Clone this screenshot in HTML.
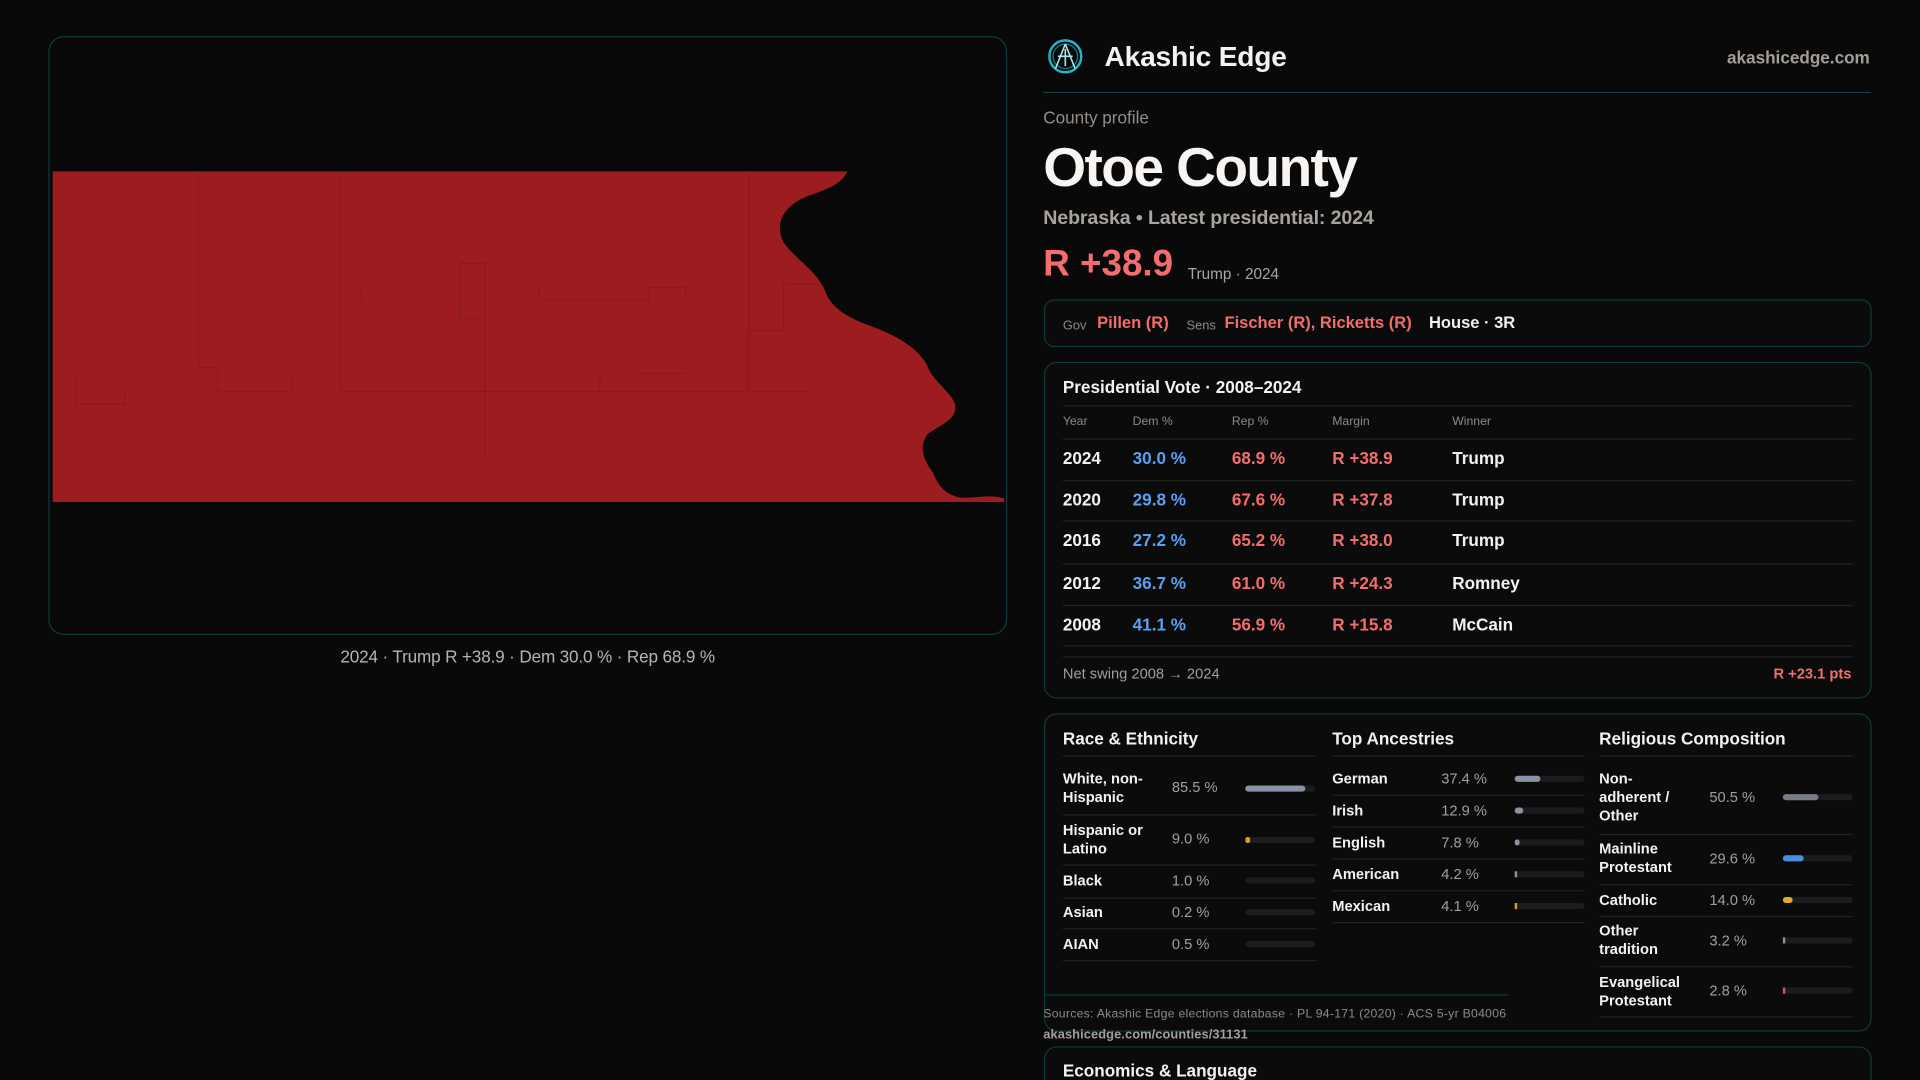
<!DOCTYPE html>
<html><head><meta charset="utf-8"><style>
html,body{margin:0;padding:0;background:#0a0909;overflow:hidden}
svg{display:block}
text{font-family:"Liberation Sans",sans-serif}
</style></head><body>
<svg width="1920" height="1080" viewBox="0 0 1568 882" xmlns="http://www.w3.org/2000/svg">
<rect width="1568" height="882" fill="#0a0909"/>
<rect x="40" y="30" width="782" height="488" rx="12" fill="#080808" stroke="#123a3e" stroke-width="1"/>
<path d="M43,140 L692,140 C688,150 675,155 660,160 C640,168 632,182 640,198 C650,212 668,222 674,238 C678,250 690,258 705,264 C728,272 748,282 757,298 C762,312 775,318 780,330 C782,342 770,346 758,354 C750,364 754,376 762,386 C766,396 770,402 782,406 C795,408 805,403 820,407 L820,410 L43,410 Z" fill="#9c1c20"/>
<g stroke="#6e1316" stroke-width="0.7" fill="none" opacity="0.45">
<path d="M162,142 V300 H178 V320 H238 V310"/>
<path d="M278,142 V320 H320"/>
<path d="M396,215 V375"/>
<path d="M278,320 H610 V270 H640 V232 H672"/>
<path d="M376,215 H396 M376,215 V260 M376,260 H396"/>
<path d="M440,232 V245 H530 V235 H560 V245"/>
<path d="M612,142 V320 H660"/>
<path d="M490,305 V320 M520,305 H560"/>
<path d="M62,305 V330 H102 V320"/>
<path d="M295,232 V245"/>
</g>
<text x="431" y="541" text-anchor="middle" font-size="14" fill="#b9b3ad" textLength="306">2024 · Trump R +38.9 · Dem 30.0 % · Rep 68.9 %</text>

<circle cx="870" cy="46" r="13" fill="none" stroke="#27b3c7" stroke-width="2"/>
<circle cx="870" cy="46" r="10" fill="none" stroke="#1b7f8e" stroke-width="1"/>
<path d="M870,36 L862,56 M870,36 L878,56 M864,46 H876 M870,40 V54" stroke="#a8e6f0" stroke-width="1.3" fill="none"/>
<text x="902" y="54" font-size="23" font-weight="bold" fill="#f4f1ee" textLength="149">Akashic Edge</text>
<text x="1527" y="52" text-anchor="end" font-size="14" font-weight="bold" fill="#a49e99">akashicedge.com</text>
<line x1="852" y1="75.5" x2="1528" y2="75.5" stroke="#1a3c42" stroke-width="1"/>
<text x="852" y="101" font-size="14" fill="#948e89">County profile</text>
<text x="852" y="152" font-size="45" font-weight="bold" fill="#f7f4f1" textLength="257">Otoe County</text>
<text x="852" y="183" font-size="16" font-weight="bold" fill="#a9a39e" textLength="270">Nebraska • Latest presidential: 2024</text>
<text x="852" y="225" font-size="30" font-weight="bold" fill="#f26d6d" textLength="106">R +38.9</text>
<text x="970" y="228" font-size="12.5" fill="#aaa4a0">Trump · 2024</text>

<rect x="853" y="245" width="675" height="38" rx="8" fill="#0b0b0b" stroke="#13373c"/>
<text x="868" y="269" font-size="10.5" fill="#8f8984">Gov</text>
<text x="896" y="268" font-size="13.5" font-weight="bold" fill="#f26d6d">Pillen (R)</text>
<text x="969" y="269" font-size="10.5" fill="#8f8984">Sens</text>
<text x="1000" y="268" font-size="13.5" font-weight="bold" fill="#f26d6d">Fischer (R), Ricketts (R)</text>
<text x="1167" y="268" font-size="13.5" font-weight="bold" fill="#f4f1ee">House · 3R</text>

<rect x="853" y="296" width="675" height="274" rx="10" fill="#0b0b0b" stroke="#13373c"/>
<text x="868" y="321" font-size="14" font-weight="bold" fill="#f4f1ee">Presidential Vote · 2008–2024</text>
<g stroke="#222" stroke-width="1">
<line x1="868" y1="331.5" x2="1513" y2="331.5"/>
<line x1="868" y1="358.5" x2="1513" y2="358.5"/>
<line x1="868" y1="392.5" x2="1513" y2="392.5"/>
<line x1="868" y1="425.5" x2="1513" y2="425.5"/>
<line x1="868" y1="460.5" x2="1513" y2="460.5"/>
<line x1="868" y1="494.5" x2="1513" y2="494.5"/>
<line x1="868" y1="527.5" x2="1513" y2="527.5"/>
<line x1="868" y1="536.5" x2="1513" y2="536.5"/>
</g>
<g font-size="10" fill="#8f8984">
<text x="868" y="347">Year</text><text x="925" y="347">Dem %</text><text x="1006" y="347">Rep %</text><text x="1088" y="347">Margin</text><text x="1186" y="347">Winner</text>
</g>
<g font-size="14" font-weight="bold">
<g fill="#f4f1ee"><text x="868" y="379">2024</text><text x="868" y="413">2020</text><text x="868" y="446">2016</text><text x="868" y="481">2012</text><text x="868" y="515">2008</text>
<text x="1186" y="379">Trump</text><text x="1186" y="413">Trump</text><text x="1186" y="446">Trump</text><text x="1186" y="481">Romney</text><text x="1186" y="515">McCain</text></g>
<g fill="#5a9ff2"><text x="925" y="379">30.0 %</text><text x="925" y="413">29.8 %</text><text x="925" y="446">27.2 %</text><text x="925" y="481">36.7 %</text><text x="925" y="515">41.1 %</text></g>
<g fill="#f26d6d"><text x="1006" y="379">68.9 %</text><text x="1006" y="413">67.6 %</text><text x="1006" y="446">65.2 %</text><text x="1006" y="481">61.0 %</text><text x="1006" y="515">56.9 %</text>
<text x="1088" y="379">R +38.9</text><text x="1088" y="413">R +37.8</text><text x="1088" y="446">R +38.0</text><text x="1088" y="481">R +24.3</text><text x="1088" y="515">R +15.8</text></g>
</g>
<text x="868" y="554" font-size="12" fill="#a49e99">Net swing 2008 → 2024</text>
<text x="1512" y="554" text-anchor="end" font-size="12" font-weight="bold" fill="#f26d6d">R +23.1 pts</text>

<rect x="853" y="583" width="675" height="259" rx="10" fill="#0b0b0b" stroke="#13373c"/>
<g font-size="14" font-weight="bold" fill="#f4f1ee">
<text x="868" y="608">Race &amp; Ethnicity</text><text x="1088" y="608">Top Ancestries</text><text x="1306" y="608">Religious Composition</text>
</g>
<g stroke="#222" stroke-width="1">
<line x1="868" y1="617.5" x2="1075" y2="617.5"/><line x1="1088" y1="617.5" x2="1294" y2="617.5"/><line x1="1306" y1="617.5" x2="1513" y2="617.5"/>
<line x1="868" y1="665.5" x2="1075" y2="665.5"/><line x1="868" y1="706.5" x2="1075" y2="706.5"/><line x1="868" y1="733.5" x2="1075" y2="733.5"/><line x1="868" y1="758.5" x2="1075" y2="758.5"/><line x1="868" y1="784.5" x2="1075" y2="784.5"/>
<line x1="1088" y1="649.5" x2="1294" y2="649.5"/><line x1="1088" y1="675.5" x2="1294" y2="675.5"/><line x1="1088" y1="701.5" x2="1294" y2="701.5"/><line x1="1088" y1="727.5" x2="1294" y2="727.5"/><line x1="1088" y1="753.5" x2="1294" y2="753.5"/>
<line x1="1306" y1="681.5" x2="1513" y2="681.5"/><line x1="1306" y1="722.5" x2="1513" y2="722.5"/><line x1="1306" y1="748.5" x2="1513" y2="748.5"/><line x1="1306" y1="789.5" x2="1513" y2="789.5"/><line x1="1306" y1="830.5" x2="1513" y2="830.5"/>
<line x1="853" y1="812.5" x2="1232" y2="812.5" stroke="#13373c"/>
</g>
<g font-size="12" font-weight="bold" fill="#f4f1ee">
<text x="868" y="640">White, non-</text><text x="868" y="655">Hispanic</text>
<text x="868" y="682">Hispanic or</text><text x="868" y="697">Latino</text>
<text x="868" y="723">Black</text><text x="868" y="749">Asian</text><text x="868" y="775">AIAN</text>
<text x="1088" y="640">German</text><text x="1088" y="666">Irish</text><text x="1088" y="692">English</text><text x="1088" y="718">American</text><text x="1088" y="744">Mexican</text>
<text x="1306" y="640">Non-</text><text x="1306" y="655">adherent /</text><text x="1306" y="670">Other</text>
<text x="1306" y="697">Mainline</text><text x="1306" y="712">Protestant</text>
<text x="1306" y="739">Catholic</text>
<text x="1306" y="764">Other</text><text x="1306" y="779">tradition</text>
<text x="1306" y="806">Evangelical</text><text x="1306" y="821">Protestant</text>
</g>
<g font-size="12" fill="#a49e99">
<text x="957" y="647">85.5 %</text><text x="957" y="689">9.0 %</text><text x="957" y="723">1.0 %</text><text x="957" y="749">0.2 %</text><text x="957" y="775">0.5 %</text>
<text x="1177" y="640">37.4 %</text><text x="1177" y="666">12.9 %</text><text x="1177" y="692">7.8 %</text><text x="1177" y="718">4.2 %</text><text x="1177" y="744">4.1 %</text>
<text x="1396" y="655">50.5 %</text><text x="1396" y="705">29.6 %</text><text x="1396" y="739">14.0 %</text><text x="1396" y="772">3.2 %</text><text x="1396" y="813">2.8 %</text>
</g>
<g fill="#1c1c1e">
<rect x="1017" y="641.5" width="57" height="5" rx="2.5"/><rect x="1017" y="683.5" width="57" height="5" rx="2.5"/><rect x="1017" y="716.5" width="57" height="5" rx="2.5"/><rect x="1017" y="742.5" width="57" height="5" rx="2.5"/><rect x="1017" y="768.5" width="57" height="5" rx="2.5"/>
<rect x="1237" y="633.5" width="57" height="5" rx="2.5"/><rect x="1237" y="659.5" width="57" height="5" rx="2.5"/><rect x="1237" y="685.5" width="57" height="5" rx="2.5"/><rect x="1237" y="711.5" width="57" height="5" rx="2.5"/><rect x="1237" y="737.5" width="57" height="5" rx="2.5"/>
<rect x="1456" y="648.5" width="57" height="5" rx="2.5"/><rect x="1456" y="698.5" width="57" height="5" rx="2.5"/><rect x="1456" y="732.5" width="57" height="5" rx="2.5"/><rect x="1456" y="765.5" width="57" height="5" rx="2.5"/><rect x="1456" y="806.5" width="57" height="5" rx="2.5"/>
</g>
<rect x="1017" y="641.5" width="49" height="5" rx="2.5" fill="#8a93a3"/>
<rect x="1017" y="683.5" width="4" height="5" rx="2" fill="#e09a1c"/>
<rect x="1237" y="633.5" width="21" height="5" rx="2.5" fill="#8a93a3"/>
<rect x="1237" y="659.5" width="7" height="5" rx="2.5" fill="#8a93a3"/>
<rect x="1237" y="685.5" width="4" height="5" rx="2" fill="#8a93a3"/>
<rect x="1237" y="711.5" width="2" height="5" fill="#8a93a3"/>
<rect x="1237" y="737.5" width="2" height="5" fill="#e09a1c"/>
<rect x="1456" y="648.5" width="29" height="5" rx="2.5" fill="#787c86"/>
<rect x="1456" y="698.5" width="17" height="5" rx="2.5" fill="#4a8ee0"/>
<rect x="1456" y="732.5" width="8" height="5" rx="2.5" fill="#e0b020"/>
<rect x="1456" y="765.5" width="2" height="5" fill="#8a93a3"/>
<rect x="1456" y="806.5" width="2" height="5" fill="#e05050"/>
<text x="852" y="831" font-size="10" fill="#8f8984" textLength="378">Sources: Akashic Edge elections database · PL 94-171 (2020) · ACS 5-yr B04006</text>
<text x="852" y="848" font-size="10.5" font-weight="bold" fill="#a49e99" textLength="167">akashicedge.com/counties/31131</text>

<rect x="853" y="855" width="675" height="60" rx="10" fill="#0b0b0b" stroke="#13373c"/>
<text x="868" y="879" font-size="14" font-weight="bold" fill="#f4f1ee">Economics &amp; Language</text>
</svg>
</body></html>
